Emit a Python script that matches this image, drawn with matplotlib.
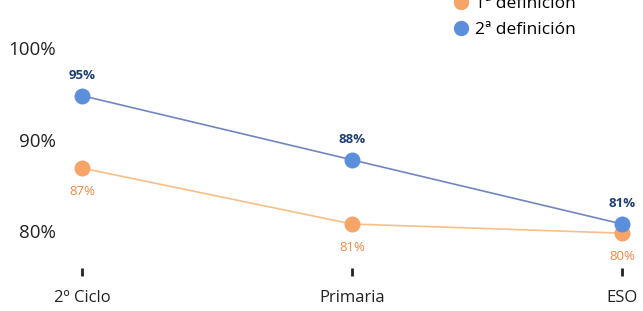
import matplotlib.pyplot as plt
from matplotlib.lines import Line2D

plt.rcParams['font.family'] = ['Open Sans', 'DejaVu Sans']

categories = ['2º Ciclo', 'Primaria', 'ESO']
def1 = [86.9, 80.8, 79.8]
def2 = [94.8, 87.8, 80.8]
labels1 = ['87%', '81%', '80%']
labels2 = ['95%', '88%', '81%']
series_names = ['1ª definición', '2ª definición']

c1_mark, c1_line, c1_text = '#f7a468', '#f8bf86', '#ee8a45'
c2_mark, c2_line, c2_text = '#5b8fdc', '#6f86bf', '#1d3f73'

W, H = 643, 311
fig = plt.figure(figsize=(W / 100, H / 100), dpi=100)
# axes: x 0..2 -> px 82..622 ; y 76..100 -> px 268..48
ax = fig.add_axes([82 / W, 1 - 268 / H, (622 - 82) / W, (268 - 48) / H])
x = list(range(len(categories)))

ax.plot(x, def1, color=c1_line, lw=1.2, zorder=2)
ax.plot(x, def2, color=c2_line, lw=1.2, zorder=2)
ax.scatter(x, def1, s=110, color=c1_mark, zorder=3, clip_on=False)
ax.scatter(x, def2, s=110, color=c2_mark, zorder=4, clip_on=False)

for xi, v, t in zip(x, def2, labels2):
    ax.annotate(t, (xi, v), xytext=(0, 10), textcoords='offset points',
                ha='center', va='bottom', fontsize=9.5, fontweight='bold', color=c2_text)
for xi, v, t in zip(x, def1, labels1):
    ax.annotate(t, (xi, v), xytext=(0, -12), textcoords='offset points',
                ha='center', va='top', fontsize=9.5, color=c1_text)

ax.set_xlim(0, 2)
ax.set_ylim(76, 100)
ax.set_yticks([80, 90, 100])
ax.set_yticklabels(['80%', '90%', '100%'], fontsize=13.5, color='#222222')
ax.set_xticks(x)
ax.set_xticklabels(categories, fontsize=12, color='#222222')
ax.tick_params(axis='y', length=0, pad=19)
ax.tick_params(axis='x', length=6, width=2, color='#222222', direction='out', pad=10)
for s in ax.spines.values():
    s.set_visible(False)

handles = [Line2D([], [], marker='o', ls='', markersize=10, color=c) for c in (c1_mark, c2_mark)]
fig.legend(handles, series_names, loc='upper left', bbox_to_anchor=(435 / W, 1 + 20 / H),
           frameon=False, fontsize=12.5, handletextpad=0.2, labelspacing=0.6, handlelength=1.2)

fig.savefig('out.png', dpi=100)
